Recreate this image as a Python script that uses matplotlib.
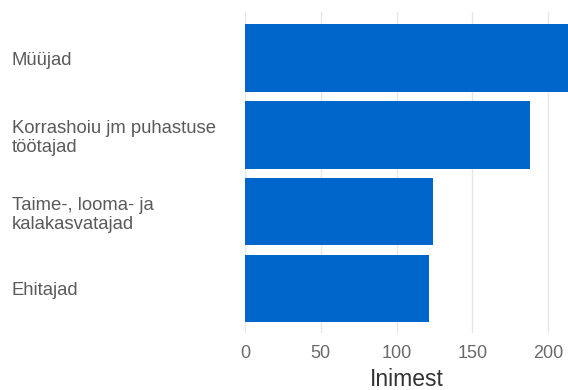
import numpy as np
import matplotlib
matplotlib.use('Agg')
import matplotlib.pyplot as plt

plt.rcParams['font.family'] = ['Liberation Sans', 'DejaVu Sans']

categories = ['Müüjad', 'Korrashoiu jm puhastuse\ntöötajad', 'Taime-, looma- ja\nkalakasvatajad', 'Ehitajad']
values = [230, 188, 124, 121.5]
xticks = [0, 50, 100, 150, 200]

fig = plt.figure(figsize=(5.68, 3.9), dpi=100)
ax = fig.add_axes([245 / 568, 1 - 333 / 390, 323 / 568, 321 / 390])

y = np.arange(len(categories))
ax.barh(y, values, height=0.88, color='#0066cc', zorder=2)
ax.set_ylim(3.58, -0.6)
ax.set_xlim(0, 213)

ax.set_xticks(xticks)
ax.set_xticklabels([str(t) for t in xticks], color='#6a6a6a', fontsize=13)
ax.set_yticks(y)
ax.set_yticklabels(categories, color='#5a5a5a', fontsize=13.3, ha='left', linespacing=1.15)
ax.tick_params(axis='y', length=0, pad=168)
ax.tick_params(axis='x', length=0, pad=9)
ax.grid(axis='x', color='#e6e6e6', linewidth=1, zorder=0)
for s in ax.spines.values():
    s.set_visible(False)
ax.set_xlabel('Inimest', fontsize=16.5, color='#333333', labelpad=4)

fig.savefig('out.png', dpi=100)
